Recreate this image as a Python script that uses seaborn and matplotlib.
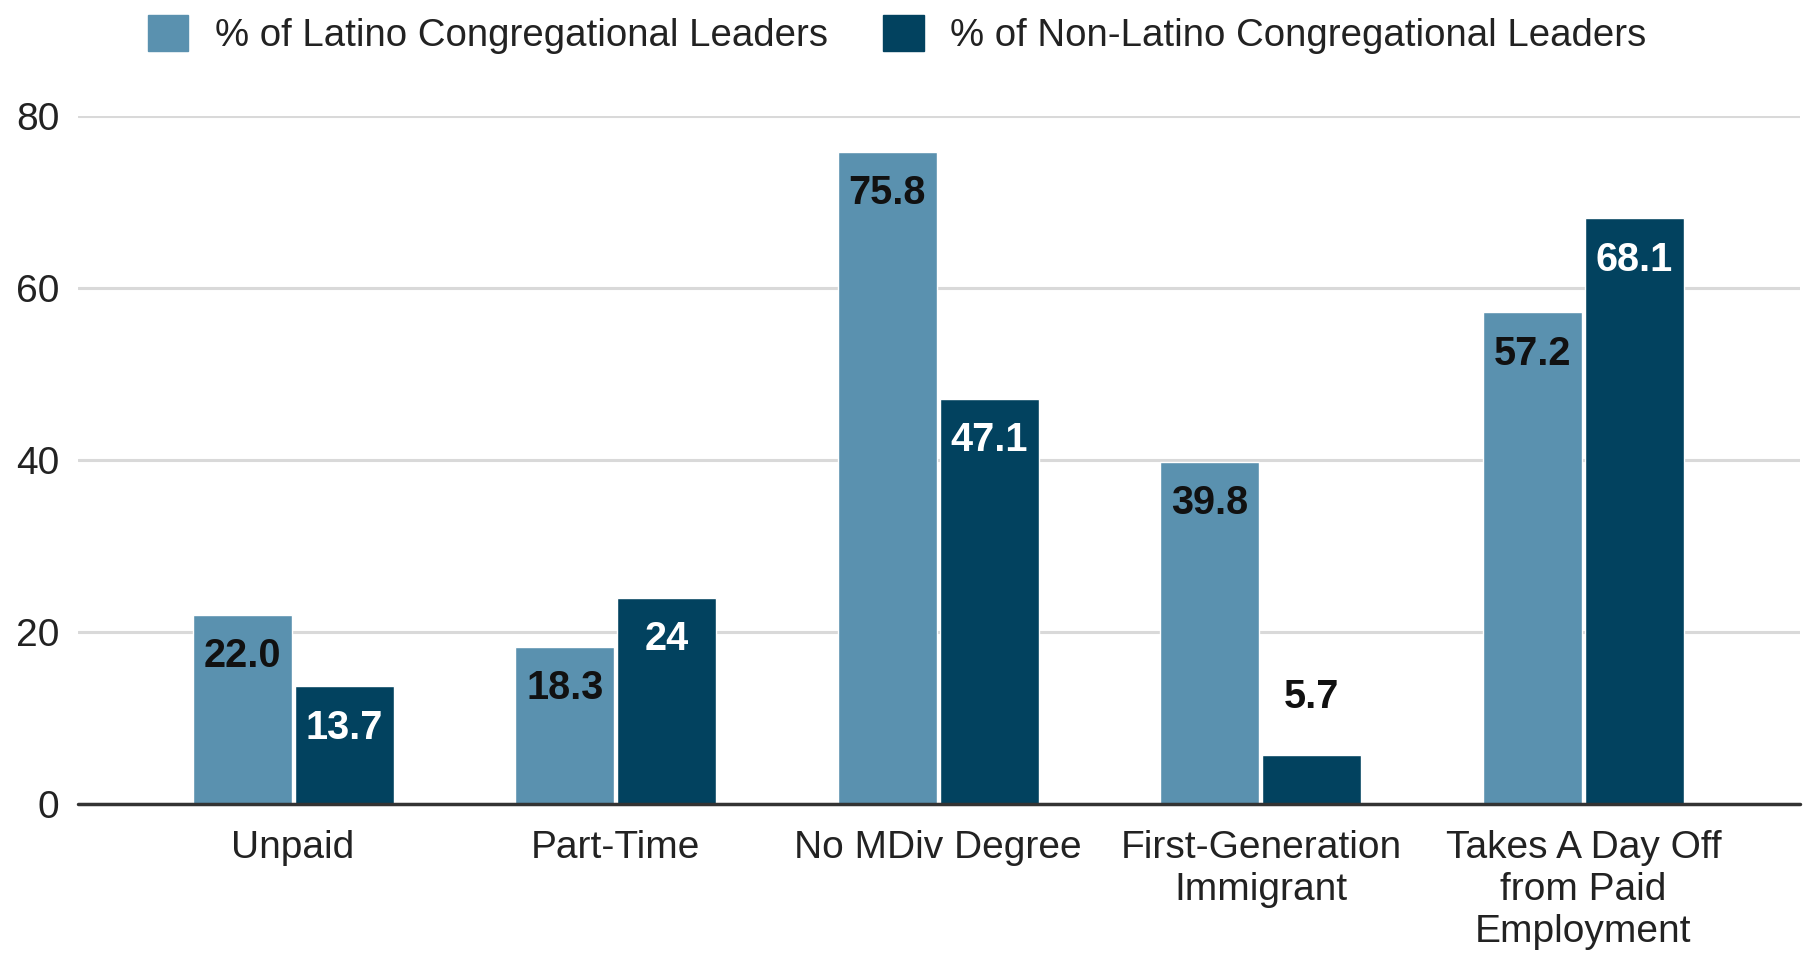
import pandas as pd
import seaborn as sns
import matplotlib.pyplot as plt

# data
categories = ["Unpaid", "Part-Time", "No MDiv Degree", "First-Generation\nImmigrant",
              "Takes A Day Off\nfrom Paid\nEmployment"]
latino = [22.0, 18.3, 75.8, 39.8, 57.2]
non_latino = [13.7, 24, 47.1, 5.7, 68.1]
latino_labels = ["22.0", "18.3", "75.8", "39.8", "57.2"]
non_latino_labels = ["13.7", "24", "47.1", "5.7", "68.1"]
series = ["% of Latino Congregational Leaders", "% of Non-Latino Congregational Leaders"]
colors = ["#5a91af", "#02425f"]

df = pd.DataFrame({
    "Category": categories * 2,
    "Value": latino + non_latino,
    "Group": [series[0]] * 5 + [series[1]] * 5,
})

sns.set_style("white")
plt.rcParams["font.family"] = ["Liberation Sans", "DejaVu Sans"]

fig = plt.figure(figsize=(18.05, 9.56), dpi=100)
ax = fig.add_axes([0.043, 0.159, 0.954, 0.72])

sns.barplot(data=df, x="Category", y="Value", hue="Group", palette=colors,
            width=0.632, gap=0.03, saturation=1, ax=ax, legend=False, zorder=3)

ax.set_ylim(0, 80)
ax.set_xlim(-0.668, 4.67)
ax.set_yticks([0, 20, 40, 60, 80])
ax.yaxis.grid(True, color="#d9d9d9", lw=2.2, zorder=0)
ax.set_axisbelow(True)
ax.axhline(0, color="#333333", lw=2.5, zorder=4, clip_on=False)
for s in ax.spines.values():
    s.set_visible(False)
ax.tick_params(axis="both", length=0, labelsize=28, colors="#222222")
ax.tick_params(axis="x", pad=19)
ax.tick_params(axis="y", pad=13)
ax.set_xlabel("")
ax.set_ylabel("")

# value labels
all_labels = [latino_labels, non_latino_labels]
txt_colors = ["#111111", "white"]
for k, cont in enumerate(ax.containers):
    for bar, lab in zip(cont, all_labels[k]):
        h = bar.get_height()
        x = bar.get_x() + bar.get_width() / 2
        if h < 10:
            ax.annotate(lab, (x, h), xytext=(0, 42), textcoords="offset points",
                        ha="center", va="center", fontsize=28.5, fontweight="bold",
                        color="#111111", zorder=5)
        else:
            ax.annotate(lab, (x, h), xytext=(0, -30), textcoords="offset points",
                        ha="center", va="center", fontsize=28.5, fontweight="bold",
                        color=txt_colors[k], zorder=5)

handles = [plt.Rectangle((0, 0), 1, 1, color=c) for c in colors]
fig.legend(handles, series, loc="center", bbox_to_anchor=(0.497, 0.964), ncol=2,
           frameon=False, fontsize=27.6, handlelength=1.05, handleheight=1.05,
           handletextpad=0.7, columnspacing=1.45, labelcolor="#222222")

fig.savefig("out.png", dpi=100)
